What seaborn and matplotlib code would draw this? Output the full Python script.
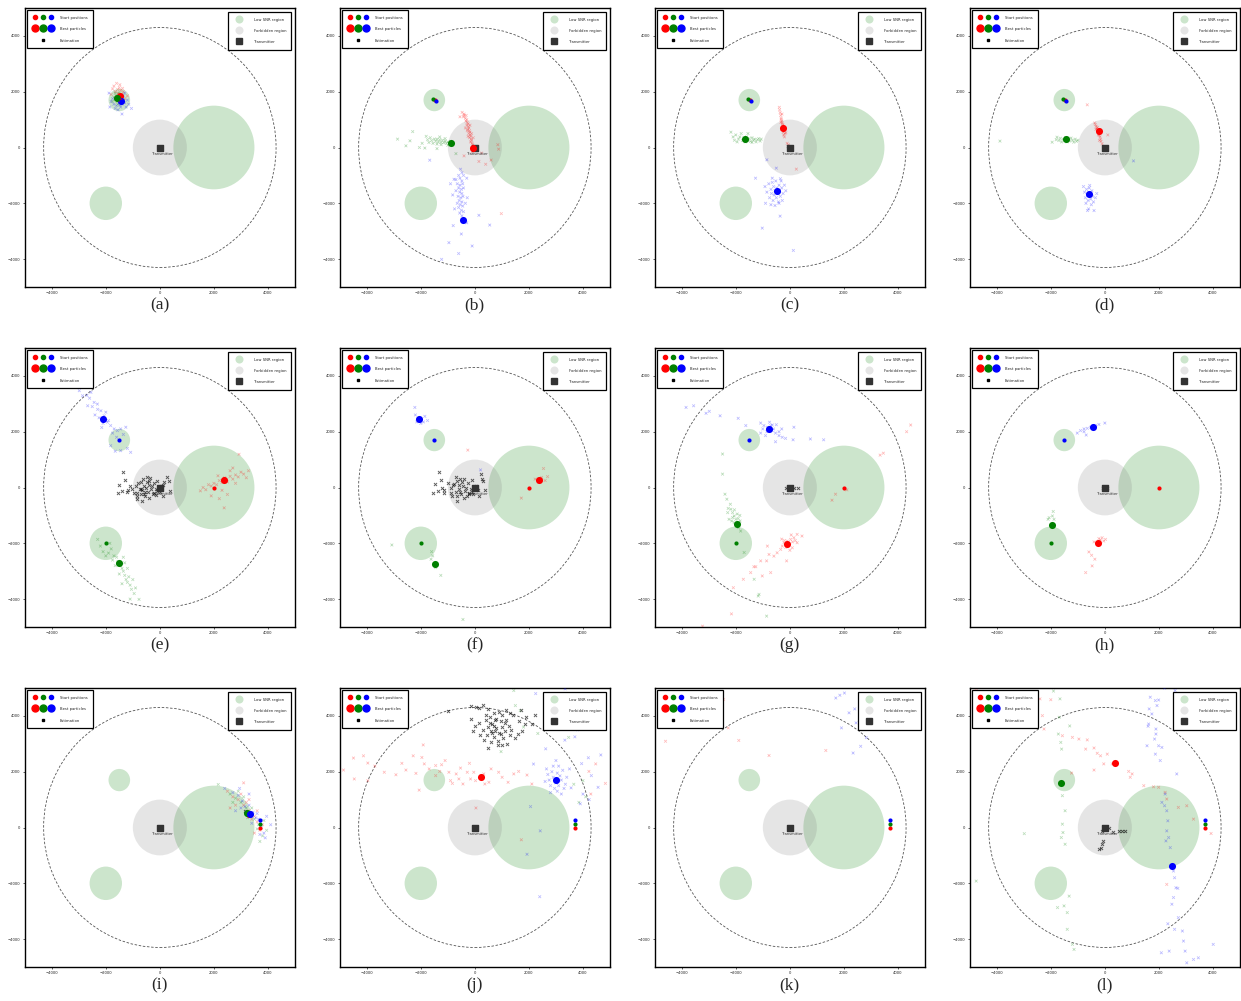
import pandas as pd
import matplotlib
matplotlib.use("Agg")
import matplotlib.pyplot as plt
from matplotlib.patches import Circle
from matplotlib.lines import Line2D
from matplotlib.legend_handler import HandlerTuple
import seaborn as sns

sns.set_theme(style="white")
plt.rcParams["font.family"] = ["DejaVu Sans"]
plt.rcParams["axes.unicode_minus"] = True

# ---------------- scenario geometry ----------------
LOW_SNR = [(-1500, 1700, 400), (-2000, -2000, 600), (2000, 0, 1500)]
FORBIDDEN = (0, 0, 1000)
BOUNDARY_R = 4300
TRANSMITTER = (0, 0)
TICKS = [-4000, -2000, 0, 2000, 4000]
COLORS = ["red", "green", "blue"]
LABELS = ["(a)", "(b)", "(c)", "(d)", "(e)", "(f)", "(g)", "(h)", "(i)", "(j)", "(k)", "(l)"]

# start positions of the three searchers (red, green, blue)
START_AD = [(-1480, 1700), (-1540, 1750), (-1440, 1650)]
START_EH = [(2000, 0), (-2000, -2000), (-1500, 1700)]
START_IL = [(3700, 0), (3700, 140), (3700, 270)]

# ---------------- (a) ----------------
best_a = [(-1470, 1860), (-1570, 1790), (-1450, 1680)]
red_a = [(-1700, 2200), (-1600, 2300), (-1500, 2150), (-1450, 2050), (-1550, 1950), (-1400, 1900),
         (-1650, 2000), (-1350, 2000), (-1500, 1850), (-1450, 1800), (-1600, 1850), (-1300, 1750),
         (-1750, 2100), (-1480, 2250), (-1380, 2120), (-1520, 1700), (-1420, 1650), (-1200, 1850),
         (-1800, 1900), (-1560, 2080)]
green_a = [(-1550, 1800), (-1600, 1750), (-1500, 1750), (-1650, 1700), (-1450, 1700), (-1580, 1650),
           (-1520, 1900), (-1620, 1850), (-1700, 1800), (-1400, 1800), (-1480, 1600), (-1560, 1550),
           (-1750, 1650), (-1350, 1680), (-1650, 1950), (-1500, 1950)]
blue_a = [(-1800, 1650), (-1850, 1450), (-1700, 1550), (-1400, 1550), (-1300, 1600), (-1250, 1450),
          (-1050, 1400), (-1400, 1200), (-1600, 1500), (-1500, 1600), (-1350, 1850), (-1200, 1700),
          (-1750, 1750), (-1450, 1450), (-1650, 1400), (-1550, 1350), (-1300, 1950), (-1880, 1950),
          (-1150, 1550), (-1480, 1520)]
est_a = [(-1520, 1760), (-1480, 1720), (-1550, 1700), (-1500, 1800), (-1450, 1760)]

# ---------------- (b) ----------------
best_b = [(-75, 0), (-880, 170), (-430, -2590)]
red_b = [(-470, 1260), (-400, 1200), (-420, 1100), (-350, 1050), (-300, 1000), (-330, 950), (-280, 900),
         (-250, 850), (-300, 800), (-240, 750), (-220, 700), (-260, 650), (-200, 600), (-180, 550),
         (-230, 500), (-170, 450), (-150, 400), (-200, 350), (-130, 300), (-120, 250), (-160, 200),
         (-100, 150), (-80, 100), (-400, 1150), (-550, 1100), (-320, 1150), (-180, 800), (-350, 700),
         (-280, 600), (-120, 500), (-60, 350), (-250, 400), (150, -500), (400, -600), (600, -450),
         (880, -60), (850, 100), (250, -200), (-400, -300), (980, -2370), (-100, -150)]
green_b = [(-2860, 300), (-2300, 570), (-2400, 240), (-2050, 0), (-1650, 350), (-1600, 250), (-1500, 300),
           (-1450, 220), (-1400, 300), (-1350, 200), (-1300, 280), (-1250, 180), (-1200, 260),
           (-1150, 170), (-1100, 230), (-1050, 150), (-1000, 200), (-950, 130), (-900, 220), (-1700, 180),
           (-1800, 400), (-1750, 280), (-1550, 150), (-1250, 100), (-1100, 320), (-1400, 120),
           (-1950, 150), (-1300, 380), (-850, 100), (-1000, 80), (-2550, 60), (-1850, -20),
           (-1400, -40), (-700, -220)]
blue_b = [(-530, -780), (-480, -900), (-600, -1000), (-420, -1000), (-700, -1150), (-550, -1100),
          (-480, -1200), (-650, -1300), (-550, -1350), (-450, -1300), (-600, -1450), (-500, -1500),
          (-420, -1450), (-700, -1550), (-560, -1600), (-480, -1650), (-620, -1750), (-520, -1800),
          (-440, -1750), (-580, -1900), (-480, -1950), (-650, -2000), (-540, -2050), (-450, -2100),
          (-600, -2150), (-500, -2250), (-420, -2300), (-560, -2350), (-480, -2450), (-770, -1140),
          (-900, -1300), (-300, -1100), (-280, -1800), (-820, -1700), (-350, -2000), (-750, -2200),
          (-960, -3410), (-1230, -4010), (-100, -3530), (550, -2780), (150, -2430), (-1670, -455),
          (-500, -3100), (-300, -2700), (-800, -2800), (-600, -3800)]
est_b = [(30, 0), (0, 20)]

# ---------------- (c) ----------------
best_c = [(-250, 716), (-1650, 290), (-460, -1550)]
red_c = [(-390, 1440), (-380, 1350), (-360, 1250), (-340, 1150), (-320, 1050), (-300, 950), (-280, 880),
         (-260, 820), (-240, 760), (-220, 700), (-300, 650), (-200, 600), (-250, 550), (-180, 500),
         (-230, 450), (-200, 380), (-320, 1000), (-290, 1200), (-270, 780), (-330, 900), (-190, 650),
         (-150, 530), (240, -775), (-50, 100), (-100, 150)]
green_c = [(-2180, 550), (-2100, 380), (-2000, 450), (-1900, 300), (-1800, 500), (-1750, 250),
           (-1700, 350), (-1650, 200), (-1600, 380), (-1550, 250), (-1500, 320), (-1450, 220),
           (-1400, 350), (-1350, 260), (-1300, 300), (-1250, 200), (-1200, 280), (-1150, 320),
           (-1100, 230), (-1060, 300), (-1950, 200), (-1850, 380), (-2050, 260), (-1550, 500),
           (-1400, 180)]
blue_c = [(-920, -1400), (-850, -1600), (-780, -1300), (-750, -1800), (-700, -1500), (-680, -1650),
          (-650, -1250), (-620, -1900), (-600, -1400), (-580, -1700), (-550, -1550), (-520, -1200),
          (-500, -1800), (-480, -1450), (-450, -1650), (-420, -1950), (-400, -1350), (-380, -1550),
          (-350, -1750), (-320, -1200), (-300, -1450), (-280, -1900), (-250, -1650), (-200, -1350),
          (-150, -1550), (-700, -2050), (-550, -2080), (-400, -2000), (-650, -1100), (-350, -1120),
          (-850, -440), (-1270, -1100), (-500, -740), (-360, -2460), (-1020, -2890), (130, -3690),
          (-900, -2000)]
est_c = [(0, 0), (-50, 60)]

# ---------------- (d) ----------------
best_d = [(-210, 600), (-1420, 310), (-585, -1680)]
red_d = [(-375, 880), (-350, 820), (-320, 760), (-300, 700), (-280, 640), (-250, 560), (-220, 500),
         (-200, 440), (-180, 380), (-160, 300), (-140, 220), (-100, 130), (-330, 650), (-270, 720),
         (-240, 450), (-200, 250), (-650, 1530), (110, 450)]
green_d = [(-1770, 370), (-1700, 250), (-1650, 330), (-1600, 200), (-1550, 300), (-1500, 240),
           (-1450, 350), (-1400, 200), (-1350, 300), (-1300, 230), (-1250, 340), (-1200, 260),
           (-1150, 190), (-1100, 300), (-1050, 220), (-1000, 260), (-3880, 230), (-1950, 190),
           (-1800, 280)]
blue_d = [(-790, -1400), (-750, -1600), (-720, -1800), (-700, -2000), (-680, -1500), (-650, -1700),
          (-620, -1900), (-600, -2200), (-580, -1450), (-550, -1650), (-520, -1850), (-500, -2050),
          (-480, -1550), (-450, -1750), (-420, -1950), (-400, -2260), (-350, -1800), (-300, -1650),
          (-560, -1360), (-640, -2260), (1060, -480)]
est_d = [(0, 0)]

# ---------------- (e) ----------------
best_e = [(2380, 275), (-1500, -2720), (-2085, 2440)]
red_e = [(1500, -120), (1600, 0), (1700, -80), (1800, 100), (1900, 50), (2000, 150), (2100, 100),
         (2200, 250), (2300, 180), (2400, 350), (2500, 200), (2600, 400), (2700, 300), (2800, 450),
         (2900, 380), (3000, 550), (3100, 480), (3280, 600), (2930, 1190), (2380, -730), (2200, -400),
         (2500, -250), (2700, 700), (2150, 420), (1900, -300), (2600, 600), (3200, 350), (2300, -100),
         (2800, 150)]
green_e = [(-2200, -2100), (-2100, -2300), (-1900, -2350), (-1800, -2200), (-1700, -2450), (-1600, -2500),
           (-1550, -2650), (-1450, -2800), (-1400, -2900), (-1350, -3000), (-1300, -3150), (-1250, -3300),
           (-1200, -3400), (-1100, -3500), (-1050, -3650), (-950, -3800), (-1300, -2700), (-1500, -3100),
           (-1150, -3200), (-1000, -3300), (-1650, -2800), (-1350, -2500), (-1750, -2600), (-1200, -2900),
           (-900, -3600), (-2000, -2450), (-1850, -2000), (-2300, -1860), (-770, -4010), (-1400, -3450),
           (-1100, -4000)]
blue_e = [(-2980, 3470), (-3170, 3710), (-2800, 3650), (-2550, 3410), (-2430, 3050), (-2860, 3290),
          (-2670, 2930), (-2310, 2990), (-2180, 2750), (-2060, 2570), (-1940, 2340), (-1820, 2220),
          (-1690, 2100), (-1570, 2040), (-1450, 2100), (-1260, 2160), (-1080, 1260), (-1450, 1320),
          (-1820, 1500), (-2400, 2600), (-2250, 2500), (-2100, 2300), (-2000, 2700), (-2300, 2800),
          (-2600, 3200), (-1900, 2400), (-1750, 1950), (-1600, 1800), (-1350, 1900), (-2150, 2150),
          (-2500, 2900), (-2700, 3300), (-3000, 3800), (-1200, 1400), (-1650, 1300)]
est_e = [(-1350, 540), (-1500, 80), (-1280, 280), (-1550, -200), (-1390, -140), (-1170, -100),
         (-1020, -60), (-900, 60), (-830, -180), (-710, -240), (-650, -480), (-860, -300), (-590, 60),
         (-470, 180), (-340, -60), (-220, -180), (-100, -120), (25, 60), (150, 180), (270, 360),
         (330, 240), (370, -140), (120, -320), (-160, -280), (-400, -360), (-560, -160), (-690, -40),
         (-610, 300), (-490, 360), (-400, 240), (-800, 150), (-700, 200), (-650, -100), (-500, 0),
         (-450, -150), (-400, 100), (-300, 50), (-250, -250), (-200, 150), (-100, 250), (-550, -300),
         (-750, -50), (-350, 350), (-600, -250), (-150, -50), (0, -150), (-1200, -150), (-950, -200),
         (-850, -420), (100, 100), (-1100, 40)]

# ---------------- (f) ----------------
best_f = [(2390, 260), (-1480, -2730), (-2070, 2440)]
red_f = [(2230, 300), (2470, 360), (2540, 680), (2690, 390), (1720, -380), (-260, 1340), (2350, 200),
         (2600, 250)]
green_f = [(-1600, -2300), (-1560, -2450), (-1620, -2570), (-1450, -2870), (-1260, -3150), (-3070, -2060),
           (-440, -4730)]
blue_f = [(-2220, 2870), (-2200, 2600), (-2000, 2300), (-1900, 2350), (-1750, 2400), (-2150, 2350),
          (-1850, 2550), (210, 630)]
est_f = [(-1330, 540), (-1480, 110), (-1260, 280), (-1530, -200), (-1350, -130), (-1140, -100),
         (-1140, -180), (-900, 0), (-770, 120), (-830, -300), (-650, -480), (-590, -60), (-470, 180),
         (-400, 300), (-320, 0), (-220, -180), (-100, -160), (25, 60), (210, 480), (270, 300),
         (310, 240), (360, -80), (150, -320), (-220, -240), (-400, -360), (-560, -160), (-650, 240),
         (-710, 360), (-100, 280), (-800, 80), (-700, -150), (-600, 100), (-500, -250), (-450, 50),
         (-350, -120), (-250, 150), (-150, -50), (-50, -250), (-900, -200), (-1000, 150), (-550, 300),
         (-300, -300), (-650, -300), (100, -100), (-1200, 0)]

# ---------------- (g) ----------------
best_g = [(-120, -2010), (-1950, -1320), (-785, 2080)]
red_g = [(-3230, -4970), (-2160, -4530), (-2090, -3590), (-1720, -3290), (-1330, -2840), (-1080, -2630),
         (-860, -2630), (-770, -2400), (-590, -2460), (-470, -2340), (-340, -2220), (-280, -2100),
         (-220, -1980), (-100, -1920), (25, -1860), (150, -1800), (270, -1680), (450, -1740),
         (270, -1980), (90, -2160), (-120, -2630), (-830, -2100), (-710, -3050), (-1020, -3170),
         (-1260, -2840), (-1450, -3050), (1560, -455), (1690, -240), (2110, -85), (3340, 1160),
         (3460, 1230), (4320, 2000), (4470, 2240), (-200, -1900), (-50, -2000), (100, -1950),
         (-150, -2150), (0, -2250), (200, -1900), (-300, -1850), (50, -1700)]
green_g = [(-2490, 1200), (-2490, 480), (-2400, -240), (-2330, -420), (-2280, -750), (-2180, -780),
           (-2120, -900), (-2060, -1020), (-2000, -1140), (-1910, -1110), (-1840, -1200), (-2060, -1260),
           (-1910, -1440), (-1820, -1560), (-1690, -2330), (-1320, -3290), (-1140, -3830), (-1170, -3890),
           (-860, -4610), (-2250, -1140), (-2120, -1080), (-2200, -600), (-2050, -800), (-1950, -950),
           (-2150, -1200), (-1850, -1000), (-2300, -900)]
blue_g = [(-3840, 2870), (-3560, 2930), (-3100, 2660), (-2980, 2730), (-2580, 2570), (-1910, 2480),
          (-1630, 2220), (-1080, 2310), (-960, 2220), (-830, 2160), (-710, 2220), (-650, 2040),
          (-530, 1950), (-400, 1860), (-280, 1800), (-160, 1760), (150, 2160), (120, 1710), (760, 1740),
          (1250, 1710), (-1080, 1950), (-900, 1860), (-530, 1640), (-650, 2240), (-750, 2340),
          (-600, 2100), (-500, 2250), (-400, 2000), (-300, 2100), (-850, 2000), (-1000, 2100)]
est_g = [(-160, 0), (0, 0), (150, 0), (290, -20), (-50, 20)]

# ---------------- (h) ----------------
best_h = [(-270, -1980), (-1960, -1350), (-420, 2170)]
red_h = [(-220, -1830), (-160, -1880), (-100, -1800), (-40, -1920), (25, -1860), (-400, -1950),
         (-590, -2310), (-490, -2430), (-370, -2570), (-470, -2810), (-710, -3050)]
green_h = [(-2060, -1080), (-1910, -860), (-1940, -1020), (-2100, -1140), (-1880, -1140)]
blue_h = [(-1020, 1950), (-900, 2040), (-770, 2100), (-650, 2120), (-530, 2160), (-340, 2220),
          (-220, 2260), (0, 2310), (-690, 1880), (-770, 2000)]
est_h = [(-60, 0), (0, 0), (80, 0), (30, 20)]

# ---------------- (i) ----------------
best_i = [(3300, 500), (3230, 525), (3340, 490)]
red_i = [(2500, 1300), (2700, 1100), (2900, 1000), (3100, 800), (3300, 600), (3500, 400), (3600, 200),
         (3700, -100), (3000, 1200), (3200, 900), (3400, 300), (2800, 800), (3300, 1000), (3600, 600),
         (3500, -200), (3100, 1600), (2600, 700), (3800, 100)]
green_i = [(2160, 1540), (2600, 1200), (2800, 1050), (3000, 900), (3200, 700), (3350, 500), (3500, 300),
           (3650, 100), (3800, -300), (3700, -500), (2900, 1300), (3100, 1100), (3400, 700), (3250, 350),
           (2700, 900), (3850, 250), (3950, -100), (3600, -50)]
blue_i = [(2400, 1400), (2700, 1250), (2900, 1150), (3050, 950), (3150, 750), (3300, 800), (3450, 550),
          (3550, 350), (3650, 300), (3750, 0), (3850, -200), (3900, -370), (3000, 700), (3200, 500),
          (3400, 150), (3600, 500), (2800, 600), (3950, 400), (4100, 100), (3700, -250), (3300, 1200),
          (2950, 1400)]
est_i = [(3200, 550), (3150, 600), (3250, 500)]

# ---------------- (j) ----------------
best_j = [(230, 1820), None, (2990, 1700)]
red_j = [(-4860, 2060), (-4490, 2490), (-4120, 2570), (-3960, 2310), (-4460, 1740), (-3960, 1680),
         (-3350, 1980), (-2920, 1890), (-2550, 2060), (-2280, 2570), (-2180, 1940), (-1910, 2960),
         (-1960, 2510), (-2060, 1340), (-1870, 2280), (-1690, 2100), (-1450, 2220), (-1230, 2250),
         (-1450, 1860), (-1300, 2010), (-960, 1980), (-900, 1680), (-830, 1580), (-690, 1920),
         (-530, 2130), (-590, 1740), (-440, 1560), (-280, 1980), (-160, 1740), (-40, 1980), (25, 1680),
         (330, 1920), (370, 1560), (520, 1620), (880, 1980), (1010, 1800), (1230, 1620), (1440, 1920),
         (1620, 2010), (1930, 1880), (2110, 1560), (40, 700), (1720, -440), (4220, 2010), (4470, 2280),
         (4830, 1580), (4290, 1200), (-3700, 2200), (-2700, 2300), (-1100, 2400), (600, 2100),
         (-200, 2300)]
green_j = [(1440, 4910), (1500, 4370), (1680, 4190), (2330, 3370), (970, 2720), (3470, 3230), (3850, 900),
           (3660, 1550), (4000, 1680), (2900, 3800), (1800, 3600), (4100, 1100)]
blue_j = [(2700, 1900), (2800, 1500), (2850, 2000), (2900, 1800), (3000, 1600), (3050, 1950), (3100, 1500),
          (3150, 1850), (3200, 1700), (3250, 2050), (3300, 1400), (2750, 1700), (2950, 1400), (3100, 2200),
          (3400, 1800), (2600, 1650), (3350, 1550), (2900, 2200), (3050, 1300), (3200, 1200), (2800, 1250),
          (3500, 2100), (2650, 2100), (3000, 2400), (2170, 2275), (2620, 2820), (3330, 3130), (3700, 3250),
          (3950, 2290), (4660, 2600), (4310, 1860), (3560, 1420), (3900, 850), (4230, 1000), (4560, 1440),
          (4000, 1200), (2060, 750), (2420, -120), (1930, -960), (2400, -2480), (3340, 4970), (2250, 4800),
          (3800, 3500), (4200, 2500)]
est_j = [(-980, 4170), (-150, 4350), (30, 4330), (150, 4300), (300, 4380), (500, 4250), (700, 4100),
         (900, 4150), (1150, 4200), (1400, 4050), (1650, 3800), (1850, 3700), (2100, 3700), (2230, 4050),
         (-150, 3900), (0, 3650), (150, 3750), (300, 3500), (400, 3850), (450, 3300), (500, 3600),
         (550, 3950), (600, 3450), (650, 3700), (700, 3250), (750, 3850), (800, 3550), (850, 3100),
         (900, 3400), (950, 3800), (1000, 3600), (1050, 3200), (1100, 3450), (1150, 3850), (1200, 3000),
         (1250, 3650), (1300, 3300), (1350, 3500), (1500, 3200), (1600, 3350), (1750, 3450), (1900, 3950),
         (600, 3050), (350, 3150), (200, 3300), (-50, 3450), (850, 2950), (500, 2850), (1000, 2950),
         (700, 3650), (950, 3350), (550, 3750), (750, 3450), (1100, 3750), (650, 3400), (800, 3900),
         (1700, 4200), (1300, 4100), (1000, 4050), (400, 4050)]

# ---------------- (k) ----------------
best_k = [None, None, None]
red_k = [(-4800, 4670), (-4850, 4400), (-4800, 3990), (-4700, 3750), (-4600, 3090), (-3030, 4470),
         (-2450, 4590), (-2280, 3570), (-1890, 3120), (-770, 2580), (1330, 2760), (-4750, 4820)]
green_k = []
blue_k = [(1700, 4640), (2020, 4820), (1850, 4740), (1910, 3570), (2190, 4110), (2450, 3750), (2620, 2910),
          (2340, 2670), (2830, 3220), (2400, 4250)]
est_k = []

# ---------------- (l) ----------------
best_l = [(370, 2310), (-1610, 1590), (2480, -1380)]
red_l = [(-4760, 4910), (-2400, 4610), (-2000, 4580), (-2310, 4010), (-2250, 3530), (-1570, 3290),
         (-1200, 3230), (-960, 3170), (-650, 3140), (-710, 2810), (-400, 2850), (-280, 2660), (-160, 2570),
         (90, 2630), (270, 2280), (880, 2010), (1010, 1920), (940, 1800), (1440, 1500), (1800, 1460),
         (1990, 1440), (2230, 1260), (2290, 1020), (2720, 720), (3030, 780), (3280, 300), (3930, -215),
         (2290, -2040), (-400, 2060), (-1230, 1950), (-40, 2280)]
green_l = [(-1900, 4890), (-1660, 4610), (-1690, 3950), (-1720, 3350), (-1630, 3050), (-1600, 2810),
           (-1300, 3640), (-1570, 1140), (-1470, 600), (-1570, 120), (-1550, -180), (-1610, -360),
           (-1470, -600), (-1320, -2460), (-1750, -2870), (-1510, -2810), (-1390, -3050), (-1390, -3650),
           (-1200, -4190), (-1140, -4370), (-2980, -220), (-4760, -1920)]
blue_l = [(2210, 5000), (1680, 4670), (1870, 4550), (1990, 4570), (1640, 4250), (1930, 4370), (1740, 4070),
          (1620, 3710), (1600, 3630), (1890, 3530), (1890, 3350), (1840, 3170), (1990, 2930), (2110, 2870),
          (1560, 2930), (1870, 2630), (2050, 2400), (2660, 1920), (2230, 1200), (2110, 900), (2210, 780),
          (2290, 600), (2330, 240), (2290, -120), (2360, -360), (2260, -480), (2420, -720), (2540, -1560),
          (2580, -1800), (2630, -2160), (2700, -2180), (2540, -2510), (2480, -2750), (2330, -3450),
          (2580, -3650), (2870, -3710), (2720, -3230), (2910, -4070), (2970, -4430), (3030, -4850),
          (3280, -4730), (3460, -4670), (2380, -4430), (2090, -4490), (2600, 4910), (4010, -4190)]
est_l = [(0, 20), (50, 0), (150, -20), (-100, -120), (-70, -480), (-100, -600), (-150, -720), (-200, -780),
         (540, -120), (640, -120), (740, -120), (320, -170), (30, -30)]

PANELS = [
    (START_AD, best_a, red_a, green_a, blue_a, est_a),
    (START_AD, best_b, red_b, green_b, blue_b, est_b),
    (START_AD, best_c, red_c, green_c, blue_c, est_c),
    (START_AD, best_d, red_d, green_d, blue_d, est_d),
    (START_EH, best_e, red_e, green_e, blue_e, est_e),
    (START_EH, best_f, red_f, green_f, blue_f, est_f),
    (START_EH, best_g, red_g, green_g, blue_g, est_g),
    (START_EH, best_h, red_h, green_h, blue_h, est_h),
    (START_IL, best_i, red_i, green_i, blue_i, est_i),
    (START_IL, best_j, red_j, green_j, blue_j, est_j),
    (START_IL, best_k, red_k, green_k, blue_k, est_k),
    (START_IL, best_l, red_l, green_l, blue_l, est_l),
]

SMALL = 2.7
PX_W, PX_H = 1241, 1001


def add_legends(ax):
    h_start = tuple(Line2D([], [], ls="none", marker="o", ms=3.0, color=c) for c in COLORS)
    h_best = tuple(Line2D([], [], ls="none", marker="o", ms=5.0, color=c) for c in COLORS)
    h_est = Line2D([], [], ls="none", marker="s", ms=1.6, color="black")
    common = dict(fontsize=SMALL, frameon=True, fancybox=False, framealpha=1.0,
                  edgecolor="black", labelspacing=1.45, handleheight=2.0, borderpad=1.3)
    leg1 = ax.legend([h_start, h_best, h_est], ["Start positions", "Best particles", "Estimation"],
                     loc="upper left", borderaxespad=0.6, handlelength=6.0, handletextpad=1.5,
                     handler_map={tuple: HandlerTuple(ndivide=None, pad=0.7)}, **common)
    leg1.get_frame().set_linewidth(0.9)
    ax.add_artist(leg1)
    h_low = Line2D([], [], ls="none", marker="o", ms=5.8, color="green", alpha=0.2, mew=0)
    h_forb = Line2D([], [], ls="none", marker="o", ms=5.8, color="gray", alpha=0.2, mew=0)
    h_tx = Line2D([], [], ls="none", marker="s", ms=4.0, color="#333333")
    leg2 = ax.legend([h_low, h_forb, h_tx], ["Low SNR region", "Forbidden region", "Transmitter"],
                     loc="upper right", borderaxespad=1.0, handlelength=3.2, handletextpad=2.4, **common)
    leg2.get_frame().set_linewidth(0.9)


def draw_panel(ax, start, best, red, green, blue, est):
    for cx, cy, r in LOW_SNR:
        ax.add_patch(Circle((cx, cy), r, facecolor="green", alpha=0.2, lw=0, zorder=1))
    ax.add_patch(Circle(FORBIDDEN[:2], FORBIDDEN[2], facecolor="gray", alpha=0.2, lw=0, zorder=1))
    ax.add_patch(Circle((0, 0), BOUNDARY_R, fill=False, ls=(0, (3, 2)), lw=0.6,
                        edgecolor="#555555", zorder=2))

    frames = [pd.DataFrame(pts, columns=["x", "y"]).assign(kind=name)
              for name, pts in zip(COLORS, (red, green, blue)) if pts]
    df = pd.concat(frames, ignore_index=True)
    sns.scatterplot(data=df, x="x", y="y", hue="kind", palette={c: c for c in COLORS},
                    marker="x", s=4, linewidth=0.55, alpha=0.26, legend=False, ax=ax, zorder=3)
    if est:
        sns.scatterplot(data=pd.DataFrame(est, columns=["x", "y"]), x="x", y="y", color="black",
                        marker="x", s=5, linewidth=0.65, alpha=0.65, legend=False, ax=ax, zorder=4)

    ax.scatter([TRANSMITTER[0]], [TRANSMITTER[1]], marker="s", s=13, color="#333333", zorder=5)
    ax.text(TRANSMITTER[0] + 100, TRANSMITTER[1] - 250, "Transmitter", fontsize=SMALL,
            color="#333333", ha="center", va="center", zorder=5)

    for pos, c in zip(best, COLORS):
        if pos is not None:
            ax.scatter([pos[0]], [pos[1]], s=26, color=c, linewidths=0, zorder=6)
    for pos, c in zip(start, COLORS):
        ax.scatter([pos[0]], [pos[1]], s=9, color=c, linewidths=0, zorder=7)

    ax.set_xlim(-5000, 5000)
    ax.set_ylim(-5000, 5000)
    ax.set_xticks(TICKS)
    ax.set_yticks(TICKS)
    ax.set_xlabel("")
    ax.set_ylabel("")
    ax.tick_params(bottom=True, left=True, length=1.5, width=0.5, labelsize=SMALL,
                   pad=1.5, colors="#222222")
    for sp in ax.spines.values():
        sp.set_color("black")
        sp.set_linewidth(1.0)
    add_legends(ax)


fig = plt.figure(figsize=(PX_W / 100, PX_H / 100), dpi=100)
fig.patch.set_facecolor("white")
for i, panel in enumerate(PANELS):
    r, c = divmod(i, 4)
    left = 24.7 + 315 * c
    top = 8 + 340 * r
    ax = fig.add_axes([left / PX_W, 1 - (top + 279) / PX_H, 270.3 / PX_W, 279 / PX_H])
    draw_panel(ax, *panel)
    fig.text((left + 135) / PX_W, 1 - (305 + 340 * r) / PX_H, LABELS[i],
             fontsize=12.5, family="Liberation Serif", ha="center", va="center")

fig.savefig("out.png", dpi=100, facecolor="white")
